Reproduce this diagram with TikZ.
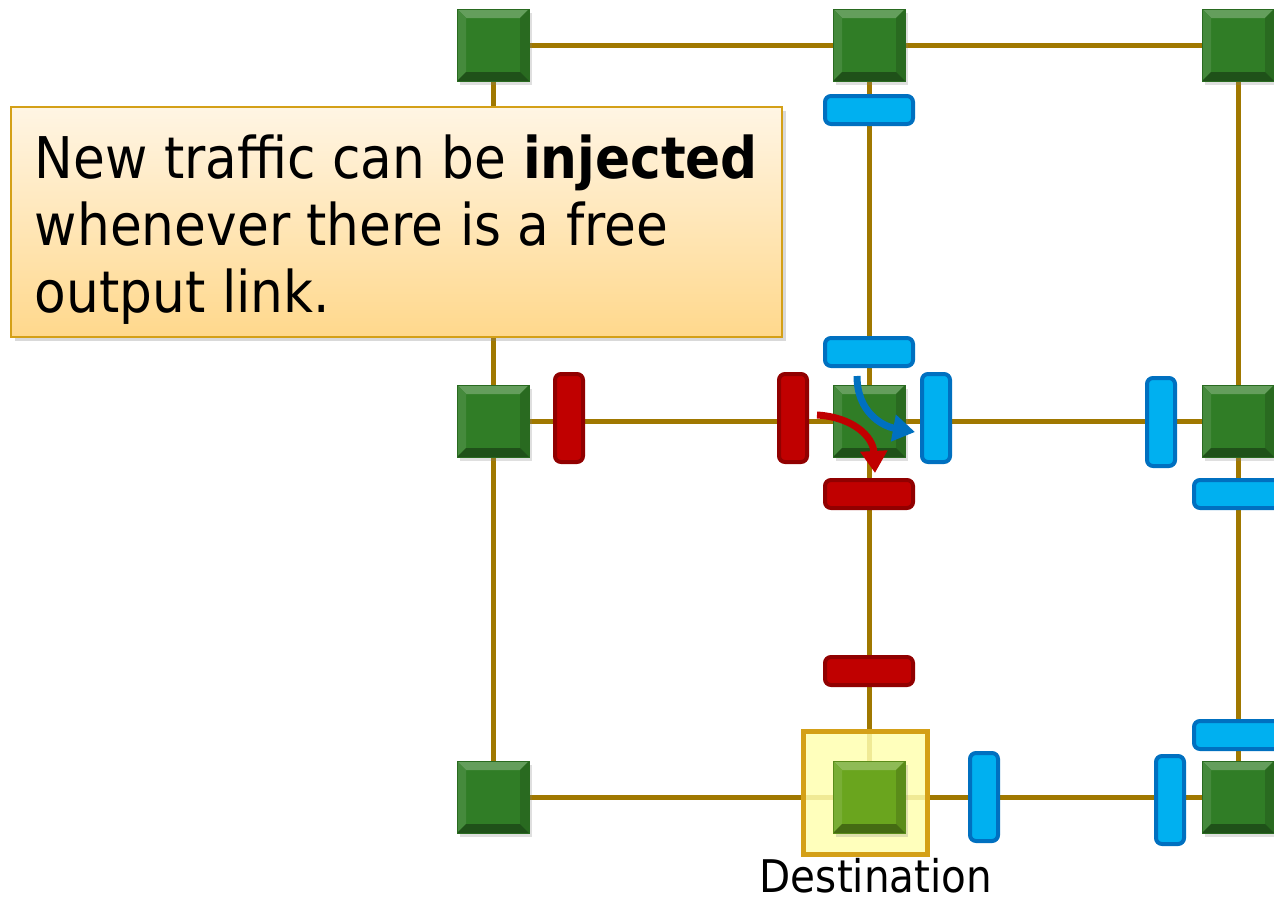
\documentclass[tikz,border=0pt]{standalone}
\usepackage{fontspec}
\setmainfont{DejaVu Sans}[FakeStretch=0.9]
\usetikzlibrary{arrows.meta,positioning,shadows,backgrounds}
\definecolor{rgreen}{RGB}{48,125,38}
\definecolor{dgreen}{RGB}{106,165,30}
\definecolor{linkgold}{RGB}{160,120,0}
\definecolor{bufblue}{RGB}{0,176,240}
\definecolor{bufblueline}{RGB}{0,112,192}
\definecolor{bufred}{RGB}{192,0,0}
\definecolor{bufredline}{RGB}{145,0,0}
\definecolor{destfill}{RGB}{255,255,176}
\definecolor{destline}{RGB}{212,160,23}
\definecolor{calltop}{RGB}{255,245,228}
\definecolor{callbot}{RGB}{255,216,140}
\definecolor{callline}{RGB}{212,160,23}

\begin{document}
\begin{tikzpicture}[x=1pt,y=-1pt,
  router/.style={minimum size=72pt, inner sep=0pt, fill=#1, draw=#1!85!black, line width=0.5pt,
    drop shadow={opacity=0.25,shadow xshift=3pt,shadow yshift=-4pt},
    path picture={
      \fill[#1!75!white] (path picture bounding box.north west) -- (path picture bounding box.north east)
        -- ([shift={(-9pt,-9pt)}]path picture bounding box.north east) -- ([shift={(9pt,-9pt)}]path picture bounding box.north west) -- cycle;
      \fill[#1!90!white] (path picture bounding box.north west) -- ([shift={(9pt,-9pt)}]path picture bounding box.north west)
        -- ([shift={(9pt,9pt)}]path picture bounding box.south west) -- (path picture bounding box.south west) -- cycle;
      \fill[#1!85!black] (path picture bounding box.north east) -- ([shift={(-9pt,-9pt)}]path picture bounding box.north east)
        -- ([shift={(-9pt,9pt)}]path picture bounding box.south east) -- (path picture bounding box.south east) -- cycle;
      \fill[#1!65!black] (path picture bounding box.south west) -- ([shift={(9pt,9pt)}]path picture bounding box.south west)
        -- ([shift={(-9pt,9pt)}]path picture bounding box.south east) -- (path picture bounding box.south east) -- cycle;
    }},
  router/.default=rgreen,
  hbuf/.style={rounded corners=6pt, line width=4pt, minimum width=88pt, minimum height=28pt, inner sep=0pt},
  vbuf/.style={rounded corners=6pt, line width=4pt, minimum width=28pt, minimum height=88pt, inner sep=0pt},
  freebuf/.style={fill=bufblue, draw=bufblueline},
  busybuf/.style={fill=bufred, draw=bufredline},
  link/.style={linkgold, line width=5pt},
  turn/.style={line width=7pt, -{Triangle[length=22pt,width=26pt]}}]
\clip (0,0) rectangle (1274,902);
% Routers
\node[router] (r11) at (493,45) {};
\node[router] (r12) at (869,45) {};
\node[router] (r13) at (1238,45) {};
\node[router] (r21) at (493,421) {};
\node[router] (r22) at (869,421) {};
\node[router] (r23) at (1238,421) {};
\node[router] (r31) at (493,797) {};
\node[router=dgreen] (r32) at (869,797) {};
\node[router] (r33) at (1238,797) {};
% Links and destination marker
\begin{scope}[on background layer]
\draw[link] (r11) -- (r12) -- (r13);
\draw[link] (r21) -- (r22) -- (r23);
\draw[link] (r31) -- (r32) -- (r33);
\draw[link] (r11) -- (r21) -- (r31);
\draw[link] (r12) -- (r22) -- (r32);
\draw[link] (r13) -- (r23) -- (r33);
\node[fill=destfill, fill opacity=0.85, draw=destline, line width=5pt, minimum width=124pt, minimum height=123pt] (dest) at (865.5,793) {};
\end{scope}
\node[font=\fontsize{45}{54}\selectfont, anchor=base, inner sep=0pt] (destlabel) at (876,892) {Destination};
% Free buffers
\node[hbuf, freebuf] (fb1) at (869,110) {};
\node[hbuf, freebuf] (fb2) at (869,352) {};
\node[vbuf, freebuf] (fb3) at (936,418) {};
\node[vbuf, freebuf] (fb4) at (1161,422) {};
\node[hbuf, freebuf] (fb5) at (1238,494) {};
\node[hbuf, freebuf] (fb6) at (1238,735) {};
\node[vbuf, freebuf] (fb7) at (984,797) {};
\node[vbuf, freebuf] (fb8) at (1170,800) {};
% Occupied buffers
\node[vbuf, busybuf] (bb1) at (569,418) {};
\node[vbuf, busybuf] (bb2) at (793,418) {};
\node[hbuf, busybuf] (bb3) at (869,494) {};
\node[hbuf, busybuf] (bb4) at (869,671) {};
% Turns through the router
\coordinate (bin) at (857,376);
\coordinate (bout) at (915,432);
\coordinate (rin) at (817,415);
\coordinate (rout) at (875,473);
\draw[turn, bufblueline] (bin) .. controls (857,412) and (882,426) .. (bout);
\draw[turn, bufred] (rin) .. controls (852,417) and (873,436) .. (rout);
% Callout
\node[draw=callline, line width=2pt, top color=calltop, bottom color=callbot,
  drop shadow={opacity=0.3,shadow xshift=4pt,shadow yshift=-4pt},
  minimum width=771pt, minimum height=230pt, inner sep=0pt,
  align=left, font=\fontsize{57.5}{67}\selectfont] (note) at (396.5,222)
  {\rule{0pt}{58pt}New traffic can be \textbf{injected}\\whenever there is a free\\output link.};
\end{tikzpicture}
\end{document}
